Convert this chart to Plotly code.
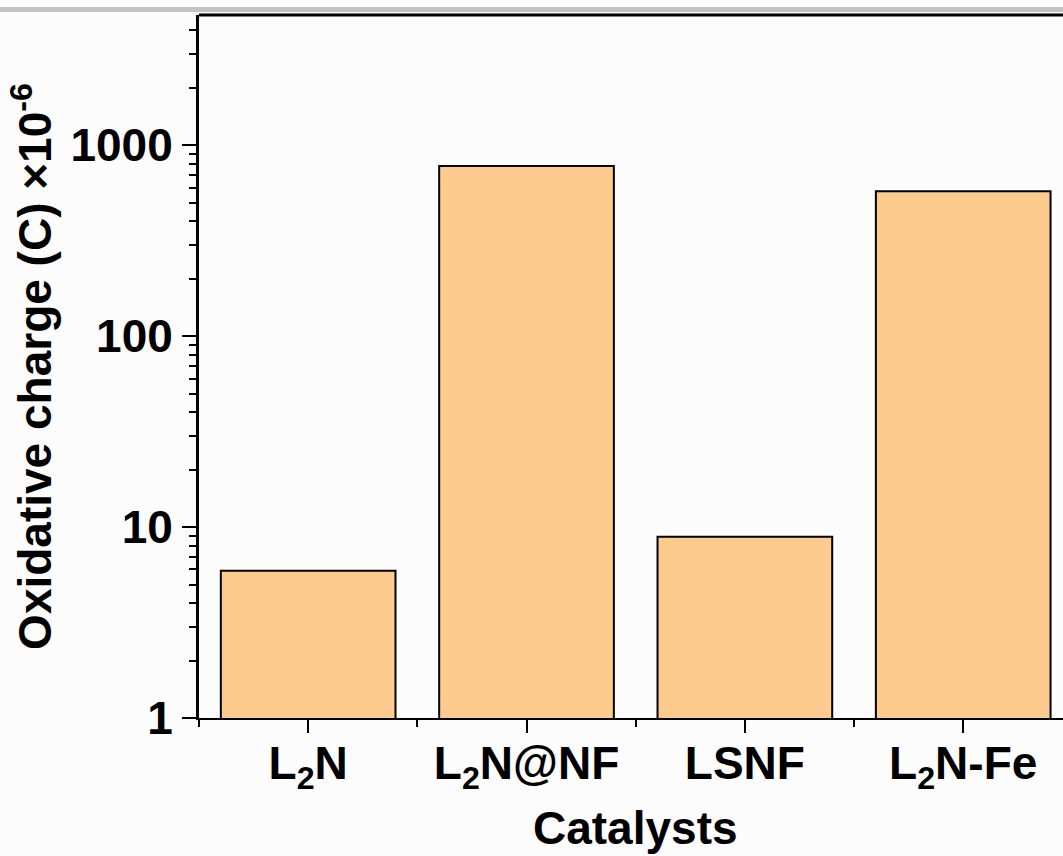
import plotly.graph_objects as go

# Catalyst categories and their oxidative charge (x 10^-6 C)
categories = ["L2N", "L2N@NF", "LSNF", "L2N-Fe"]
tick_labels = ["L<sub>2</sub>N", "L<sub>2</sub>N@NF", "LSNF", "L<sub>2</sub>N-Fe"]
charge = [5.9, 780, 8.9, 575]

y_tickvals = [1, 10, 100, 1000]
y_ticktext = ["1", "10", "100", "1000"]

FONT = "Liberation Sans, Arial, sans-serif"
BAR_COLOR = "#FDCB8E"

fig = go.Figure(
    go.Bar(
        x=list(range(len(categories))),
        y=charge,
        width=0.8,
        marker=dict(color=BAR_COLOR, line=dict(color="black", width=2)),
        hovertext=categories,
    )
)

fig.update_layout(
    width=1063,
    height=856,
    margin=dict(l=199, r=0, t=15, b=138),
    paper_bgcolor="#fcfcfc",
    plot_bgcolor="#fcfcfc",
    showlegend=False,
    font=dict(family=FONT, color="black", size=46, weight="bold"),
    shapes=[
        # thin grey band across the very top
        dict(type="rect", xref="paper", yref="paper",
             x0=-0.3, x1=1.05, y0=1.0043, y1=1.0114,
             fillcolor="#c2c2c2", line=dict(width=0), layer="above"),
        # top frame line
        dict(type="line", xref="paper", yref="paper",
             x0=0, x1=1.05, y0=1, y1=1,
             line=dict(color="black", width=3), layer="above"),
    ],
    annotations=[
        # x-axis title
        dict(text="Catalysts", xref="x", yref="paper", x=1.5, y=-0.117,
             xanchor="center", yanchor="top", showarrow=False,
             font=dict(family=FONT, size=46, weight="bold")),
    ],
)

fig.update_xaxes(
    range=[-0.5, 3.457],
    tickmode="array",
    tickvals=list(range(len(categories))),
    ticktext=tick_labels,
    ticks="outside",
    ticklen=13,
    tickwidth=2,
    tickcolor="black",
    showline=True,
    linecolor="black",
    linewidth=2,
    showgrid=False,
    zeroline=False,
    tickfont=dict(family=FONT, size=46, weight="bold"),
    ticklabelstandoff=-9,
    minor=dict(tickvals=[-0.5, 0.5, 1.5, 2.5], ticks="outside", ticklen=7,
               tickwidth=2, tickcolor="black", showgrid=False),
)

fig.update_yaxes(
    type="log",
    range=[0, 3.683],
    tickmode="array",
    tickvals=y_tickvals,
    ticktext=y_ticktext,
    ticks="outside",
    ticklen=14,
    tickwidth=2,
    tickcolor="black",
    showline=True,
    linecolor="black",
    linewidth=3,
    showgrid=False,
    zeroline=False,
    tickfont=dict(family=FONT, size=46, weight="bold"),
    ticklabelstandoff=0,
    minor=dict(dtick="D1", ticks="outside", ticklen=7, tickwidth=2,
               tickcolor="black", showgrid=False),
    title=dict(text="Oxidative charge (C) ×10<sup>-6</sup>",
               font=dict(family=FONT, size=46, weight="bold"), standoff=5),
)

fig.write_html("out.html")
